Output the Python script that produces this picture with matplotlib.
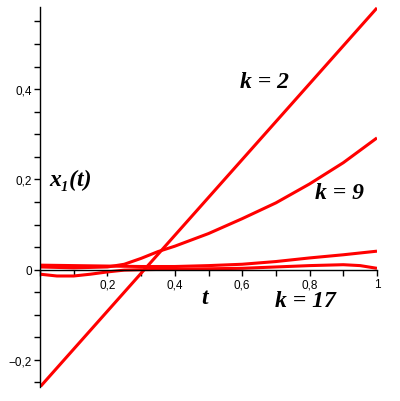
import matplotlib.pyplot as plt
from matplotlib.ticker import FuncFormatter, MultipleLocator

# curves
t_k2 = [0.0, 1.0]
x_k2 = [-0.26, 0.58]

t_k9 = [0.0, 0.1, 0.2, 0.25, 0.3, 0.35, 0.4, 0.5, 0.6, 0.7, 0.8, 0.9, 1.0]
x_k9 = [0.006, 0.004, 0.006, 0.012, 0.025, 0.04, 0.052, 0.08, 0.113, 0.148, 0.19, 0.237, 0.292]

t_mid = [0.0, 0.1, 0.2, 0.3, 0.4, 0.5, 0.6, 0.7, 0.8, 0.9, 1.0]
x_mid = [0.01, 0.009, 0.008, 0.007, 0.007, 0.009, 0.012, 0.018, 0.026, 0.033, 0.041]

t_k17 = [0.0, 0.05, 0.1, 0.15, 0.2, 0.25, 0.3, 0.4, 0.5, 0.6, 0.7, 0.8, 0.9, 0.95, 1.0]
x_k17 = [-0.01, -0.014, -0.014, -0.01, -0.005, -0.001, 0.0, 0.001, 0.002, 0.003, 0.006, 0.009, 0.011, 0.009, 0.003]

xticks = [0.2, 0.4, 0.6, 0.8, 1.0]
yticks = [-0.2, 0.0, 0.2, 0.4]

plt.rcParams['font.family'] = ['Liberation Sans', 'DejaVu Sans']

fig = plt.figure(figsize=(4, 4.02), dpi=100)
ax = fig.add_axes([0.1, 0.0348, 0.8425, 0.9453])

red = '#ff0000'
for t, x in [(t_k2, x_k2), (t_k9, x_k9), (t_mid, x_mid), (t_k17, x_k17)]:
    ax.plot(t, x, color=red, lw=2.2, solid_capstyle='butt')

ax.set_xlim(0, 1)
ax.set_ylim(-0.26, 0.582)

ax.spines['left'].set_position('zero')
ax.spines['bottom'].set_position('zero')
ax.spines['top'].set_visible(False)
ax.spines['right'].set_visible(False)
for s in ['left', 'bottom']:
    ax.spines[s].set_linewidth(1.0)

ax.set_xticks(xticks)
ax.xaxis.set_minor_locator(MultipleLocator(0.1))
ax.set_yticks(yticks)
ax.yaxis.set_minor_locator(MultipleLocator(0.05))

fmt = FuncFormatter(lambda v, p: ('%g' % round(v, 2)).replace('.', ',').replace('-', '\u2212'))
ax.xaxis.set_major_formatter(fmt)
ax.yaxis.set_major_formatter(fmt)
ax.tick_params(which='both', direction='out', length=4, width=1, labelsize=8.5, pad=2)

lab = dict(family=['Liberation Serif', 'DejaVu Serif'], style='italic', weight='bold',
           fontsize=17, va='center')
ax.text(0.593, 0.418, 'k = 2', **lab)
ax.text(0.816, 0.170, 'k = 9', **lab)
ax.text(0.697, -0.068, 'k = 17', **lab)
ax.text(0.48, -0.062, 't', **lab)
ax.text(0.027, 0.20, 'x\u2081(t)', **lab)

fig.savefig('out.png', dpi=100)
